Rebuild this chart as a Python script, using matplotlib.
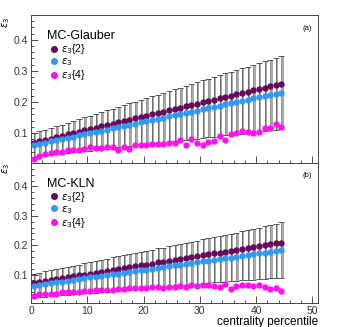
import numpy as np
import matplotlib
matplotlib.use('Agg')
from matplotlib import pyplot as plt
from matplotlib.ticker import MultipleLocator

plt.rcParams['font.family'] = ['Liberation Sans', 'DejaVu Sans']
plt.rcParams['mathtext.fontset'] = 'dejavusans'

centrality = np.arange(45) + 0.5

# MC-Glauber
glauber_e2 = [0.069, 0.073, 0.078, 0.082, 0.086, 0.091, 0.095, 0.099, 0.104, 0.108,
              0.112, 0.117, 0.121, 0.125, 0.129, 0.134, 0.138, 0.142, 0.147, 0.151,
              0.155, 0.160, 0.164, 0.168, 0.173, 0.177, 0.181, 0.186, 0.190, 0.194,
              0.199, 0.203, 0.207, 0.212, 0.216, 0.220, 0.224, 0.229, 0.233, 0.237,
              0.242, 0.246, 0.250, 0.255, 0.259]
glauber_mean = [0.061, 0.065, 0.069, 0.073, 0.076, 0.080, 0.084, 0.088, 0.092, 0.096,
                0.099, 0.103, 0.107, 0.111, 0.115, 0.119, 0.122, 0.126, 0.130, 0.134,
                0.138, 0.142, 0.145, 0.149, 0.153, 0.157, 0.161, 0.165, 0.169, 0.172,
                0.176, 0.180, 0.184, 0.188, 0.192, 0.195, 0.199, 0.203, 0.207, 0.211,
                0.215, 0.218, 0.222, 0.226, 0.230]
glauber_sigma = [0.038, 0.040, 0.042, 0.043, 0.045, 0.047, 0.049, 0.051, 0.053, 0.054,
                 0.056, 0.058, 0.060, 0.062, 0.063, 0.065, 0.067, 0.069, 0.071, 0.073,
                 0.074, 0.076, 0.078, 0.080, 0.082, 0.083, 0.085, 0.087, 0.089, 0.091,
                 0.093, 0.094, 0.096, 0.098, 0.100, 0.102, 0.103, 0.105, 0.107, 0.109,
                 0.111, 0.113, 0.114, 0.116, 0.118]
glauber_e4 = [0.016, 0.026, 0.031, 0.035, 0.038, 0.040, 0.046, 0.046, 0.044, 0.048,
              0.053, 0.051, 0.052, 0.053, 0.053, 0.046, 0.053, 0.049, 0.061, 0.061,
              0.061, 0.064, 0.065, 0.065, 0.066, 0.069, 0.077, 0.061, 0.082, 0.068,
              0.060, 0.071, 0.074, 0.090, 0.077, 0.095, 0.099, 0.106, 0.102, 0.100,
              0.103, 0.117, 0.115, 0.129, 0.119]

# MC-KLN
kln_e2 = [0.072, 0.075, 0.078, 0.081, 0.084, 0.088, 0.091, 0.094, 0.097, 0.100,
          0.103, 0.106, 0.109, 0.112, 0.116, 0.119, 0.122, 0.125, 0.128, 0.131,
          0.134, 0.137, 0.141, 0.144, 0.147, 0.150, 0.153, 0.156, 0.159, 0.162,
          0.165, 0.169, 0.172, 0.175, 0.178, 0.181, 0.184, 0.187, 0.190, 0.193,
          0.197, 0.200, 0.203, 0.206, 0.209]
kln_mean = [0.062, 0.065, 0.068, 0.070, 0.073, 0.076, 0.079, 0.081, 0.084, 0.087,
            0.090, 0.092, 0.095, 0.098, 0.101, 0.103, 0.106, 0.109, 0.112, 0.114,
            0.117, 0.120, 0.123, 0.125, 0.128, 0.131, 0.134, 0.136, 0.139, 0.142,
            0.145, 0.147, 0.150, 0.153, 0.156, 0.158, 0.161, 0.164, 0.167, 0.169,
            0.172, 0.175, 0.178, 0.180, 0.183]
kln_sigma = [0.040, 0.041, 0.043, 0.044, 0.045, 0.046, 0.048, 0.049, 0.050, 0.051,
             0.053, 0.054, 0.055, 0.056, 0.058, 0.059, 0.060, 0.061, 0.062, 0.063,
             0.064, 0.065, 0.066, 0.067, 0.068, 0.069, 0.070, 0.071, 0.072, 0.073,
             0.075, 0.076, 0.077, 0.078, 0.080, 0.081, 0.082, 0.083, 0.085, 0.086,
             0.087, 0.089, 0.091, 0.093, 0.095]
kln_e4 = [0.027, 0.032, 0.032, 0.032, 0.032, 0.042, 0.042, 0.042, 0.042, 0.044,
          0.044, 0.046, 0.046, 0.048, 0.048, 0.050, 0.051, 0.053, 0.053, 0.054,
          0.055, 0.057, 0.057, 0.055, 0.057, 0.058, 0.061, 0.058, 0.063, 0.062,
          0.065, 0.064, 0.062, 0.058, 0.067, 0.052, 0.061, 0.064, 0.064, 0.061,
          0.065, 0.057, 0.052, 0.055, 0.045]

panels = [('MC-Glauber', '(a)', glauber_e2, glauber_mean, glauber_sigma, glauber_e4),
          ('MC-KLN', '(b)', kln_e2, kln_mean, kln_sigma, kln_e4)]

c_e2 = '#650a5c'
c_mean = '#3399f0'
c_e4 = '#ff11ee'

fig = plt.figure(figsize=(3.54, 3.27), dpi=100)
ax_top = fig.add_axes([0.0876, 0.5015, 0.8107, 0.4525])
ax_bot = fig.add_axes([0.0876, 0.0734, 0.8107, 0.4281])

for ax, (model, tag, e2, mean, sigma, e4) in zip([ax_top, ax_bot], panels):
    ax.errorbar(centrality + 0.25, mean, yerr=sigma, fmt='none', ecolor='#a8a8a8',
                elinewidth=1.4, zorder=1)
    ax.errorbar(centrality, mean, yerr=sigma, fmt='none', ecolor='#404040',
                elinewidth=0.4, capsize=2, capthick=0.6, zorder=2)
    ax.plot(centrality, e2, 'o', color=c_e2, ms=4.6, mec='none', zorder=3,
            label=r'$\varepsilon_3${2}')
    ax.plot(centrality, mean, 'o', color=c_mean, ms=4.6, mec='none', zorder=3,
            label=r'$\varepsilon_3$')
    ax.plot(centrality, e4, 'o', color=c_e4, ms=4.6, mec='none', zorder=3,
            label=r'$\varepsilon_3${4}')

    ax.set_xlim(0, 51)
    ax.set_ylim(0.003, 0.48)
    ax.xaxis.set_major_locator(MultipleLocator(10))
    ax.xaxis.set_minor_locator(MultipleLocator(2))
    ax.yaxis.set_major_locator(MultipleLocator(0.1))
    ax.yaxis.set_minor_locator(MultipleLocator(0.02))
    ax.tick_params(which='both', direction='in', top=False, right=False,
                   labelsize=7.5, width=0.6, colors='#333333', pad=2)
    ax.tick_params(which='major', length=5)
    ax.tick_params(which='minor', length=2.5)
    ax.set_yticks([0.1, 0.2, 0.3, 0.4])
    ax.set_yticklabels(['0.1', '0.2', '0.3', '0.4'])
    for s in ax.spines.values():
        s.set_linewidth(0.7)
        s.set_color('#444444')

    ax.set_ylabel(r'$\varepsilon_3$', fontsize=7)
    ax.text(0.979, 0.91, tag, transform=ax.transAxes, ha='right', va='center',
            fontsize=5.5)
    leg = ax.legend(loc='upper left', bbox_to_anchor=(0.03, 0.945), frameon=False,
                    title=model, alignment='left', fontsize=7.5, title_fontsize=9,
                    handlelength=1.3, handletextpad=0.1, labelspacing=0.0,
                    borderpad=0.2, markerscale=1.1)

ax_top.yaxis.set_label_coords(-0.065, 0.953)
ax_bot.yaxis.set_label_coords(-0.065, 0.964)
ax_top.tick_params(labelbottom=False)
ax_bot.set_xlabel('centrality percentile', fontsize=8.5, loc='right', labelpad=0)

plt.savefig('out.png', dpi=100)
